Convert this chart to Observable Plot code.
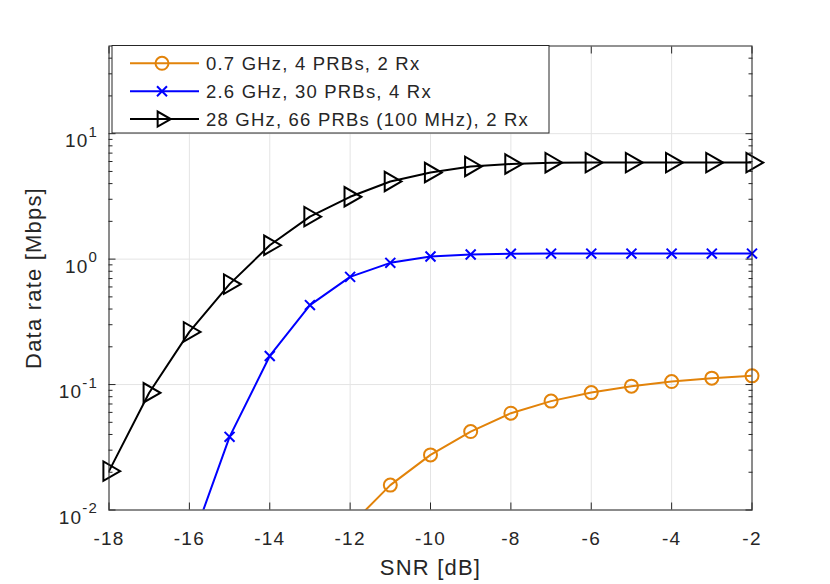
<!DOCTYPE html>
<html><head><meta charset="utf-8">
<script src="https://cdn.jsdelivr.net/npm/d3@7"></script>
<script src="https://cdn.jsdelivr.net/npm/@observablehq/plot@0.6"></script>
<style>
html,body{margin:0;padding:0;background:#fff;}
#chart svg{display:block;}
</style></head><body><div id="chart"></div>
<script>
// ---- data ----
const snr28  = [-18,-17,-16,-15,-14,-13,-12,-11,-10,-9,-8,-7,-6,-5,-4,-3,-2];
const rate28 = [0.0204,0.086,0.263,0.632,1.29,2.18,3.14,4.16,4.9,5.48,5.73,5.87,5.88,5.88,5.88,5.88,5.88];
const snr26  = [-16,-15,-14,-13,-12,-11,-10,-9,-8,-7,-6,-5,-4,-3,-2];
const rate26 = [0.0049,0.0383,0.169,0.430,0.722,0.934,1.05,1.088,1.105,1.107,1.107,1.107,1.107,1.107,1.107];
const snr07  = [-12,-11,-10,-9,-8,-7,-6,-5,-4,-3,-2];
const rate07 = [0.0075,0.0158,0.0275,0.0422,0.0591,0.0738,0.0863,0.0971,0.1057,0.1125,0.1173];
const seriesNames = ["0.7 GHz, 4 PRBs, 2 Rx","2.6 GHz, 30 PRBs, 4 Rx","28 GHz, 66 PRBs (100 MHz), 2 Rx"];
const seriesColors = ["#e2830a","#0000ff","#000000"];
const xTicks = [-18,-16,-14,-12,-10,-8,-6,-4,-2];
const yMajor = [0.01,0.1,1,10];
const yMinor = [0.02,0.03,0.04,0.05,0.06,0.07,0.08,0.09,0.2,0.3,0.4,0.5,0.6,0.7,0.8,0.9,2,3,4,5,6,7,8,9,20,30,40];
const xLabel = "SNR [dB]";
const yLabel = "Data rate [Mbps]";

const mk = (xs, ys) => xs.map((x, i) => ({snr: x, rate: ys[i]}));
const d07 = mk(snr07, rate07), d26 = mk(snr26, rate26), d28 = mk(snr28, rate28);

const W = 830, H = 584, ML = 108.5, MR = 78.5, MT = 45.5, MB = 74.5;
const axisColor = "#262626";
const gridColor = "#e4e4e4";
const inDomain = d => d.rate >= 0.01;
const triR = 7.2;

const tickOnly = (anchor, ticks, size, isX) => (isX ? Plot.axisX : Plot.axisY)(ticks, {
  anchor, tickSize: -size, tickFormat: () => "", label: null, stroke: axisColor
});

const plot = Plot.plot({
  width: W, height: H,
  marginLeft: ML, marginRight: MR, marginTop: MT, marginBottom: MB,
  style: {fontFamily: "'Liberation Sans', Arial, sans-serif", fontSize: "19px", color: axisColor, background: "#fff", letterSpacing: "1.2px"},
  x: {domain: [-18, -2], label: null},
  y: {type: "log", domain: [0.01, 50], label: null},
  marks: [
    Plot.gridX(xTicks, {stroke: gridColor, strokeOpacity: 1}),
    Plot.gridY(yMajor, {stroke: gridColor, strokeOpacity: 1}),
    Plot.line(d07, {x: "snr", y: "rate", stroke: seriesColors[0], strokeWidth: 2, clip: true}),
    Plot.line(d26, {x: "snr", y: "rate", stroke: seriesColors[1], strokeWidth: 2, clip: true}),
    Plot.line(d28, {x: "snr", y: "rate", stroke: seriesColors[2], strokeWidth: 2, clip: true}),
    Plot.dot(d07, {x: "snr", y: "rate", filter: inDomain, symbol: "circle", r: 6.5, stroke: seriesColors[0], strokeWidth: 2, fill: "none"}),
    Plot.dot(d26, {x: "snr", y: "rate", filter: inDomain, symbol: "times", r: 4.6, stroke: seriesColors[1], strokeWidth: 2, fill: "none"}),
    Plot.dot(d28, {x: "snr", y: "rate", filter: inDomain, symbol: "triangle", rotate: 90, r: triR, stroke: seriesColors[2], strokeWidth: 2, fill: "none"}),
    Plot.frame({stroke: axisColor, strokeWidth: 1}),
    Plot.axisX(xTicks, {anchor: "bottom", tickSize: 0, tickPadding: 21, tickFormat: d => String(d), label: null, fontSize: 19, fill: axisColor}),
    tickOnly("bottom", xTicks, 7, true),
    tickOnly("top", xTicks, 7, true),
    Plot.axisY(yMajor, {anchor: "left", tickSize: 0, tickPadding: 11, dy: 7.6, tickFormat: d => "10^" + Math.round(Math.log10(d)), label: null, fontSize: 19, fill: axisColor}),
    tickOnly("left", yMajor, 7, false),
    tickOnly("left", yMinor, 4, false),
    tickOnly("right", yMajor, 7, false),
    tickOnly("right", yMinor, 4, false),
    Plot.text([xLabel], {text: d => d, frameAnchor: "bottom", textAnchor: "middle", lineAnchor: "middle", dy: 57.5, fontSize: 22, fill: axisColor}),
    Plot.text([yLabel], {text: d => d, frameAnchor: "left", textAnchor: "middle", lineAnchor: "middle", dx: -75, rotate: -90, fontSize: 22, fill: axisColor})
  ]
});

const svg = d3.select(plot);
// superscript exponents on y tick labels
svg.selectAll('g[aria-label="y-axis tick label"] text').each(function() {
  const t = this.textContent;
  if (t.startsWith("10^")) {
    const e = t.slice(3);
    const sel = d3.select(this);
    sel.text("10");
    sel.append("tspan").attr("dy", "-10.5").attr("font-size", "15").text(e);
  }
});

// legend box inside the plot (layout only)
const lg = svg.append("g").attr("font-size", 18.5).attr("fill", "#000").attr("text-anchor", "start");
const lx = 112, ly = 45.5, lw = 437, lh = 87.5, rowY0 = 63.3, rowStep = 27.9;
lg.append("rect").attr("x", lx).attr("y", ly).attr("width", lw).attr("height", lh)
  .attr("fill", "#fff").attr("stroke", axisColor).attr("stroke-width", 1);
const symDefs = [
  {type: d3.symbolCircle, r: 6.5, rot: 0},
  {type: d3.symbolTimes, r: 4.6, rot: 0},
  {type: d3.symbolTriangle2, r: triR, rot: 90}
];
seriesNames.forEach((name, i) => {
  const y = rowY0 + i * rowStep;
  lg.append("line").attr("x1", 130).attr("x2", 199).attr("y1", y).attr("y2", y)
    .attr("stroke", seriesColors[i]).attr("stroke-width", 2);
  const s = symDefs[i];
  lg.append("path").attr("d", d3.symbol(s.type, Math.PI * s.r * s.r)())
    .attr("transform", `translate(162,${y}) rotate(${s.rot})`)
    .attr("fill", "none").attr("stroke", seriesColors[i]).attr("stroke-width", 2);
  lg.append("text").attr("x", 206).attr("y", y + 6.7).attr("fill", axisColor)
    .attr("text-anchor", "start").text(name);
});

document.getElementById("chart").appendChild(plot);
</script>
</body></html>
